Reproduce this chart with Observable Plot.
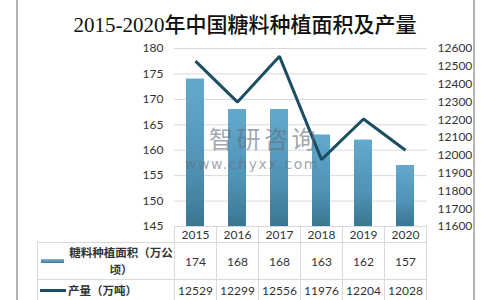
<!DOCTYPE html>
<html>
<head>
<meta charset="utf-8">
<script src="https://cdn.jsdelivr.net/npm/d3@7"></script>
<script src="https://cdn.jsdelivr.net/npm/@observablehq/plot@0.6"></script>
<style>
  html, body { margin: 0; padding: 0; background: #fff; }
  body { width: 500px; height: 300px; position: relative; overflow: hidden; font-family: Lato, "Noto Sans CJK SC", sans-serif; }
  #frame { position: absolute; left: 16px; top: -2px; width: 455px; height: 306px; border-left: 2px solid #b3b3b3; border-right: 2px solid #b3b3b3; }
  #title { position: absolute; left: 0; width: 490px; top: 8px; text-align: center; font-family: "Liberation Serif", "Noto Sans CJK SC", serif; font-size: 21px; color: #111; white-space: nowrap; }
  #title .cjk { font-family: "Noto Sans CJK SC"; font-weight: 500; }
  #chart { position: absolute; left: 0; top: 40px; }
  #wm { position: absolute; left: 185px; top: 125px; color: rgba(100,110,128,0.62); pointer-events: none; }
  #wm .a { font-family: "Noto Sans CJK SC"; font-size: 24px; letter-spacing: 3.5px; margin-left: 24px; line-height: 26px; height: 26px; }
  #wm .b { font-family: "DejaVu Sans", sans-serif; font-size: 14px; letter-spacing: 1.6px; line-height: 15px; margin-top: 6px; }
  table { position: absolute; left: 37px; top: 226px; width: 390px; border-collapse: collapse; table-layout: fixed; font-size: 12px; color: #333; }
  td { border: 1px solid #d9d9d9; text-align: center; padding: 0; }
  tr.h td { height: 16px; border-top: none; }
  tr.h td.first { border-left: none; border-top: none; }
  tr.r1 td { height: 36px; }
  tr.r2 td { height: 20px; }
  .lab { display: flex; align-items: center; font-family: "Noto Sans CJK SC"; font-weight: 700; font-size: 11.5px; color: #333; }
  .sw1 { width: 23px; height: 4px; margin: 0 4px 0 3px; background: linear-gradient(#7fb6d0, #3d7894); flex: none; }
  .sw2 { width: 26px; height: 3px; margin: 0 2px 0 2px; background: #1b4d63; flex: none; }
  .t1 { width: 106px; flex: none; text-align: center; line-height: 17px; }
  .t2 { text-align: left; }
</style>
</head>
<body>
<div id="frame"></div>
<div id="title"></div>
<div id="chart"></div>
<div id="wm"><div class="a">智研咨询</div><div class="b">www.chyxx.com</div></div>
<table id="tbl"></table>
<script>
const titleText = "2015-2020年中国糖料种植面积及产量";
const years = ["2015", "2016", "2017", "2018", "2019", "2020"];
const area = [174, 168, 168, 163, 162, 157];
const output = [12529, 12299, 12556, 11976, 12204, 12028];
const leftTicks = [145, 150, 155, 160, 165, 170, 175, 180];
const rightTicks = [11600, 11700, 11800, 11900, 12000, 12100, 12200, 12300, 12400, 12500, 12600];
const seriesNames = ["糖料种植面积（万公顷）", "产量（万吨）"];

// title
document.getElementById("title").innerHTML =
  titleText.replace(/([^\x00-\x7F]+)/g, '<span class="cjk">$1</span>');

// map right-axis values onto the left scale
const toLeft = d3.scaleLinear().domain([11600, 12600]).range([145, 180]);

const data = years.map((y, i) => ({year: y, area: area[i], output: output[i], out2: toLeft(output[i])}));

const chart = Plot.plot({
  width: 500,
  height: 186,
  marginLeft: 174,
  marginRight: 73,
  marginTop: 8,
  marginBottom: 0,
  style: {fontFamily: "Lato, 'Noto Sans CJK SC', sans-serif", fontSize: "12px", color: "#333", background: "transparent", overflow: "visible"},
  x: {domain: years, paddingInner: 0.57, paddingOuter: 0.285, axis: null},
  y: {domain: [145, 180], axis: null},
  marks: [
    Plot.gridY(leftTicks, {stroke: "#d9d9d9", strokeOpacity: 1}),
    Plot.barY(data, {x: "year", y1: 145, y2: "area", fill: "url(#barGrad)"}),
    Plot.line(data, {x: "year", y: "out2", stroke: "#1b4d63", strokeWidth: 3, strokeLinejoin: "miter", strokeLinecap: "butt"}),
    Plot.axisY({ticks: leftTicks, anchor: "left", tickSize: 0, tickPadding: 11, fontSize: 12}),
    Plot.axisY({ticks: rightTicks.map(v => toLeft(v)), anchor: "right", tickSize: 0, tickPadding: 10,
      tickFormat: v => String(Math.round(toLeft.invert(v))), fontSize: 12})
  ]
});

// gradient for bars
const ns = "http://www.w3.org/2000/svg";
const defs = document.createElementNS(ns, "defs");
defs.innerHTML = `<linearGradient id="barGrad" x1="0" y1="0" x2="0" y2="1">
  <stop offset="0%" stop-color="#62aacd"/>
  <stop offset="60%" stop-color="#4f93b5"/>
  <stop offset="100%" stop-color="#3b7691"/>
</linearGradient>`;
chart.insertBefore(defs, chart.firstChild);
document.getElementById("chart").appendChild(chart);

// data table
const tbl = document.getElementById("tbl");
let html = '<colgroup><col style="width:137px">' + years.map(() => '<col>').join('') + '</colgroup>';
html += '<tr class="h"><td class="first"></td>' + years.map(y => `<td>${y}</td>`).join('') + '</tr>';
html += `<tr class="r1"><td><div class="lab"><span class="sw1"></span><span class="t1">${seriesNames[0]}</span></div></td>` +
  area.map(v => `<td>${v}</td>`).join('') + '</tr>';
html += `<tr class="r2"><td><div class="lab"><span class="sw2"></span><span class="t2">${seriesNames[1]}</span></div></td>` +
  output.map(v => `<td>${v}</td>`).join('') + '</tr>';
tbl.innerHTML = html;
</script>
</body>
</html>
